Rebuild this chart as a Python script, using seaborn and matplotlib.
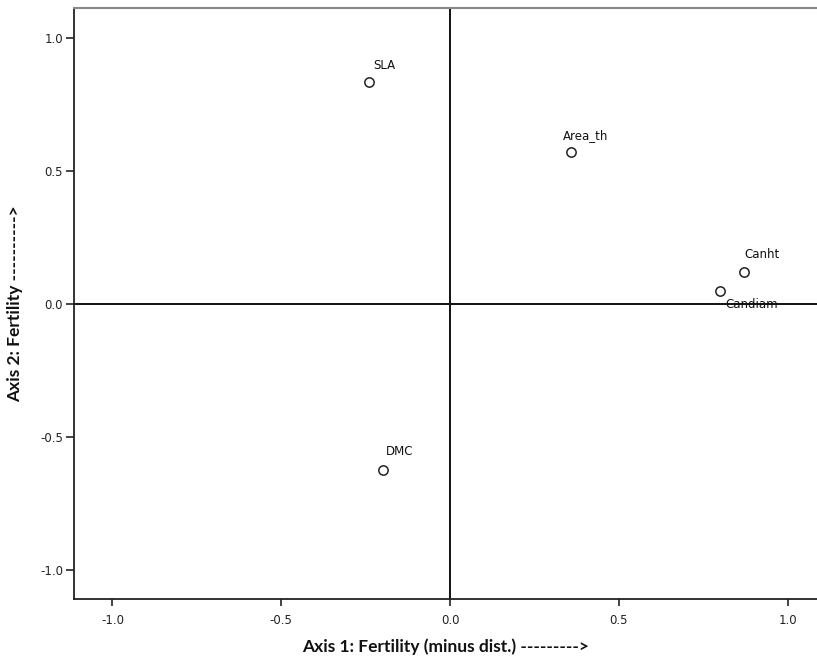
import matplotlib
matplotlib.use("Agg")
import matplotlib.pyplot as plt
import seaborn as sns
import pandas as pd

# Data
traits = ["SLA", "Area_th", "Canht", "Candiam", "DMC"]
axis1 = [-0.240, 0.358, 0.871, 0.800, -0.199]
axis2 = [0.835, 0.571, 0.120, 0.049, -0.624]
x_ticks = [-1.0, -0.5, 0.0, 0.5, 1.0]
y_ticks = [-1.0, -0.5, 0.0, 0.5, 1.0]

df = pd.DataFrame({"trait": traits, "axis1": axis1, "axis2": axis2})

sns.set_theme(style="white")
plt.rcParams["font.family"] = ["DejaVu Sans"]

W, H = 817, 664
fig = plt.figure(figsize=(W / 100, H / 100), dpi=100)
ax = fig.add_axes([74 / W, (H - 599) / H, (817 - 74) / W, (599 - 8) / H])

ax.axhline(0, color="#111111", lw=1.4, zorder=1)
ax.axvline(0, color="#111111", lw=1.4, zorder=1)

sns.scatterplot(data=df, x="axis1", y="axis2", ax=ax, marker="o", s=45,
                facecolor="white", edgecolor="#222222", linewidth=1.1, zorder=3)

# label offsets in points (dx, dy)
offsets = {"SLA": (3, 12), "Area_th": (-6, 12), "Canht": (0, 13),
           "Candiam": (4, -10), "DMC": (2, 13)}
for t, x, y in zip(traits, axis1, axis2):
    dx, dy = offsets[t]
    ax.annotate(t, (x, y), xytext=(dx, dy), textcoords="offset points",
                fontsize=8.5, color="#111111", ha="left", va="center",
                zorder=4)

ax.set_xlim(-1.114, 1.087)
ax.set_ylim(-1.109, 1.113)
ax.set_xticks(x_ticks)
ax.set_yticks(y_ticks)
ax.set_xticklabels([f"{v:.1f}" for v in x_ticks])
ax.set_yticklabels([f"{v:.1f}" for v in y_ticks])
ax.tick_params(axis="both", labelsize=8.5, colors="#222222", direction="out",
               bottom=True, left=True)
ax.tick_params(axis="y", length=6, width=1.2, pad=2)
ax.tick_params(axis="x", length=5, width=1.2, pad=6)

for side in ["left", "bottom"]:
    ax.spines[side].set_color("#222222")
    ax.spines[side].set_linewidth(1.3)
ax.spines["top"].set_color("#888888")
ax.spines["top"].set_linewidth(1.5)
ax.spines["right"].set_visible(False)

ax.set_xlabel("Axis 1: Fertility (minus dist.) --------->", fontsize=12.5,
              fontweight="bold", family=["Lato", "DejaVu Sans"], labelpad=8,
              color="#111111")
ax.set_ylabel("Axis 2: Fertility ---------->", fontsize=12.5,
              fontweight="bold", family=["Lato", "DejaVu Sans"], labelpad=12,
              color="#111111")

fig.savefig("out.png", dpi=100, facecolor="white")
